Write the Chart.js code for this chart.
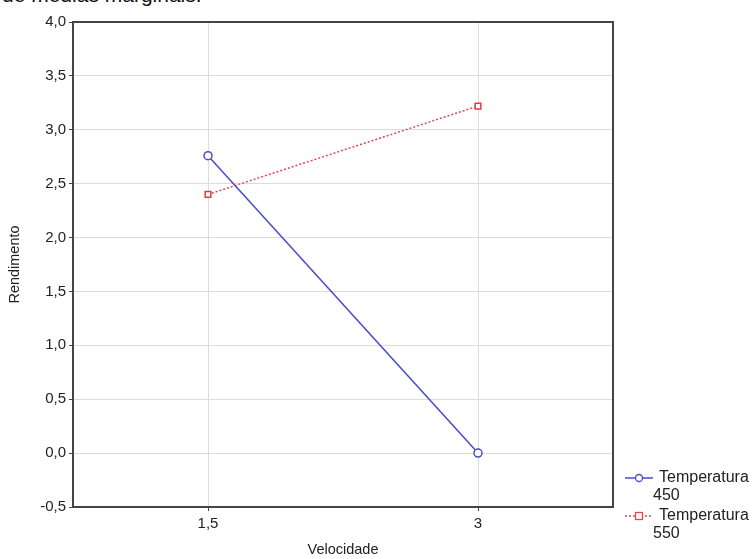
<!DOCTYPE html>
<html>
<head>
<meta charset="utf-8">
<script src="https://cdn.jsdelivr.net/npm/chart.js@4/dist/chart.umd.min.js"></script>
<style>
  body { margin: 0; background: #fff; }
  #wrap { position: relative; width: 754px; height: 559px; overflow: hidden; }
  #cut { position: absolute; left: 2px; top: -17px; font: 21px "Liberation Sans", Arial, sans-serif; color: #111; white-space: nowrap; }
  canvas { position: absolute; left: 0; top: 0; }
</style>
</head>
<body>
<div id="wrap">
  <div id="cut">de médias marginais.</div>
  <canvas id="chart" width="754" height="559"></canvas>
</div>
<script>
// Velocidade categories and Rendimento means
const velocidade = ["1,5", "3"];
const temp450 = [2.76, 0.0];
const temp550 = [2.40, 3.22];
const seriesNames = [["Temperatura", "450"], ["Temperatura", "550"]];

const fam = "'Liberation Sans', Arial, sans-serif";
const tickFont = { family: fam, size: 15 };
const titleFont = { family: fam, size: 14.5 };

// frame round the plot area + legend on the right
const framePlugin = {
  id: "frame",
  afterDraw(chart) {
    const ctx = chart.ctx;
    const a = chart.chartArea;
    ctx.save();
    ctx.strokeStyle = "#444";
    ctx.lineWidth = 2;
    ctx.strokeRect(a.left, a.top, a.right - a.left, a.bottom - a.top);

    // legend
    ctx.font = "16px " + fam;
    ctx.textBaseline = "middle";
    let y = 478;
    chart.data.datasets.forEach((ds, i) => {
      ctx.strokeStyle = ds.borderColor;
      ctx.lineWidth = ds.borderWidth;
      ctx.setLineDash(ds.borderDash || []);
      ctx.beginPath();
      ctx.moveTo(625, y);
      ctx.lineTo(653, y);
      ctx.stroke();
      ctx.setLineDash([]);
      ctx.fillStyle = "#fff";
      ctx.lineWidth = 1.3;
      if (ds.pointStyle === "rect") {
        ctx.fillRect(635.5, y - 3.5, 7, 7);
        ctx.strokeRect(635.5, y - 3.5, 7, 7);
      } else {
        ctx.beginPath();
        ctx.arc(639, y, 3.5, 0, Math.PI * 2);
        ctx.fill();
        ctx.stroke();
      }
      ctx.fillStyle = "#222";
      ctx.fillText(seriesNames[i][0], 659, y);
      ctx.fillText(seriesNames[i][1], 653, y + 18);
      y += 38;
    });
    ctx.restore();
  }
};

new Chart(document.getElementById("chart"), {
  type: "line",
  data: {
    labels: velocidade,
    datasets: [{
      label: "Temperatura 450",
      data: temp450,
      borderColor: "#4a4ac8",
      borderWidth: 1.5,
      pointStyle: "circle",
      pointRadius: 4,
      pointBackgroundColor: "#fff",
      pointBorderColor: "#4a4ac8",
      pointBorderWidth: 1.5
    }, {
      label: "Temperatura 550",
      data: temp550,
      borderColor: "#e0484f",
      borderWidth: 1.5,
      borderDash: [2, 2],
      pointStyle: "rect",
      pointRadius: 4,
      pointBackgroundColor: "#fff",
      pointBorderColor: "#d84040",
      pointBorderWidth: 1.5
    }]
  },
  options: {
    responsive: false,
    animation: false,
    layout: { padding: { left: 0, top: 22, right: 141, bottom: 0 } },
    plugins: { legend: { display: false }, tooltip: { enabled: false } },
    scales: {
      x: {
        type: "category",
        offset: true,
        afterFit: s => { s.height = 52; },
        grid: { offset: false, color: "#dcdcdc", lineWidth: 1, tickLength: 4, drawTicks: true, tickColor: "#444" },
        border: { display: false },
        ticks: { color: "#222", font: tickFont, padding: 4 },
        title: { display: true, text: "Velocidade", color: "#222", font: titleFont, padding: { top: 0, bottom: 0 } }
      },
      y: {
        min: -0.5,
        max: 4.0,
        afterFit: s => { s.width = 73; },
        grid: { color: "#dcdcdc", lineWidth: 1, tickLength: 4, tickColor: "#444" },
        border: { display: false },
        ticks: {
          stepSize: 0.5,
          color: "#222",
          font: tickFont,
          padding: 3,
          callback: v => v.toFixed(1).replace(".", ",")
        },
        title: { display: true, text: "Rendimento", color: "#222", font: titleFont, padding: { top: 6, bottom: 0 } }
      }
    }
  },
  plugins: [framePlugin]
});
</script>
</body>
</html>
